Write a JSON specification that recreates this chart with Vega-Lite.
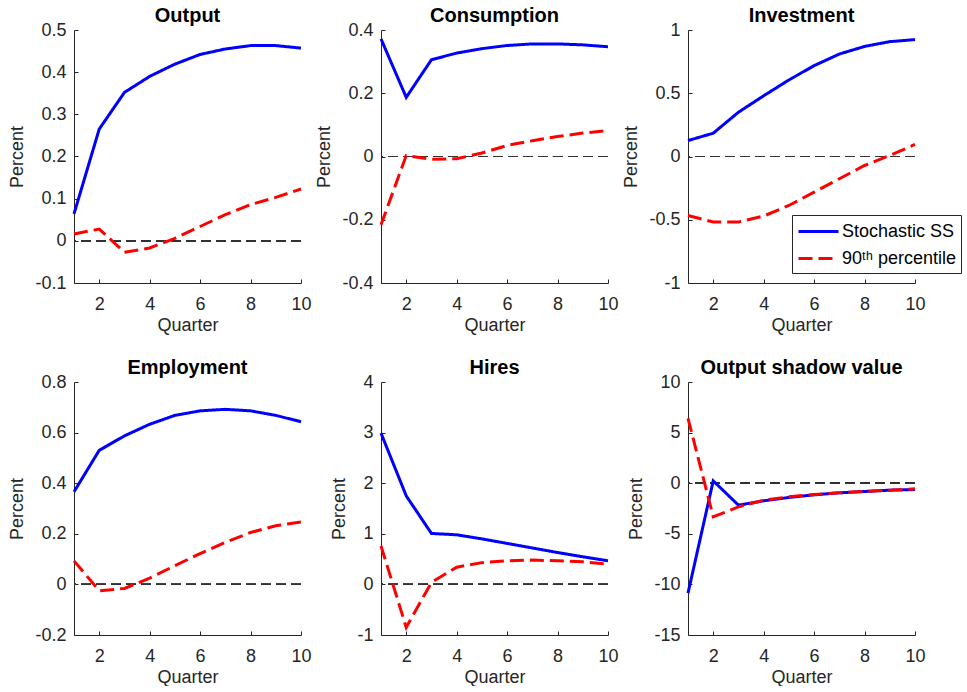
{
  "$schema": "https://vega.github.io/schema/vega-lite/v6.json",
  "padding": {"left": 8, "top": 6, "right": 0, "bottom": 0},
  "background": "white",
  "config": {
    "view": {"stroke": null},
    "font": "Liberation Sans",
    "title": {"fontSize": 20, "fontWeight": "bold", "color": "#000000", "offset": -5, "font": "Liberation Sans"},
    "axis": {
      "grid": false,
      "domainColor": "#262626",
      "tickColor": "#262626",
      "labelColor": "#262626",
      "titleColor": "#262626",
      "labelFont": "Liberation Sans",
      "titleFont": "Liberation Sans",
      "labelFontSize": 18,
      "titleFontSize": 18,
      "titleFontWeight": "normal",
      "tickSize": -4,
      "domainWidth": 1,
      "tickWidth": 1,
      "labelFlush": false,
      "labelOverlap": false
    },
    "axisX": {"labelPadding": 16, "titlePadding": 3},
    "axisY": {"labelPadding": 12, "titlePadding": 8}
  },
  "datasets": {
    "irf": [
      {"p": "Output", "s": "Stochastic SS", "q": 1, "v": 0.064},
      {"p": "Output", "s": "Stochastic SS", "q": 2, "v": 0.265},
      {"p": "Output", "s": "Stochastic SS", "q": 3, "v": 0.352},
      {"p": "Output", "s": "Stochastic SS", "q": 4, "v": 0.39},
      {"p": "Output", "s": "Stochastic SS", "q": 5, "v": 0.419},
      {"p": "Output", "s": "Stochastic SS", "q": 6, "v": 0.442},
      {"p": "Output", "s": "Stochastic SS", "q": 7, "v": 0.455},
      {"p": "Output", "s": "Stochastic SS", "q": 8, "v": 0.463},
      {"p": "Output", "s": "Stochastic SS", "q": 9, "v": 0.463},
      {"p": "Output", "s": "Stochastic SS", "q": 10, "v": 0.457},
      {"p": "Output", "s": "90ᵗʰ percentile", "q": 1, "v": 0.016},
      {"p": "Output", "s": "90ᵗʰ percentile", "q": 2, "v": 0.028},
      {"p": "Output", "s": "90ᵗʰ percentile", "q": 3, "v": -0.027},
      {"p": "Output", "s": "90ᵗʰ percentile", "q": 4, "v": -0.017},
      {"p": "Output", "s": "90ᵗʰ percentile", "q": 5, "v": 0.006},
      {"p": "Output", "s": "90ᵗʰ percentile", "q": 6, "v": 0.034},
      {"p": "Output", "s": "90ᵗʰ percentile", "q": 7, "v": 0.062},
      {"p": "Output", "s": "90ᵗʰ percentile", "q": 8, "v": 0.086},
      {"p": "Output", "s": "90ᵗʰ percentile", "q": 9, "v": 0.103},
      {"p": "Output", "s": "90ᵗʰ percentile", "q": 10, "v": 0.123},
      {"p": "Consumption", "s": "Stochastic SS", "q": 1, "v": 0.372},
      {"p": "Consumption", "s": "Stochastic SS", "q": 2, "v": 0.187},
      {"p": "Consumption", "s": "Stochastic SS", "q": 3, "v": 0.306},
      {"p": "Consumption", "s": "Stochastic SS", "q": 4, "v": 0.327},
      {"p": "Consumption", "s": "Stochastic SS", "q": 5, "v": 0.341},
      {"p": "Consumption", "s": "Stochastic SS", "q": 6, "v": 0.351},
      {"p": "Consumption", "s": "Stochastic SS", "q": 7, "v": 0.356},
      {"p": "Consumption", "s": "Stochastic SS", "q": 8, "v": 0.356},
      {"p": "Consumption", "s": "Stochastic SS", "q": 9, "v": 0.353},
      {"p": "Consumption", "s": "Stochastic SS", "q": 10, "v": 0.347},
      {"p": "Consumption", "s": "90ᵗʰ percentile", "q": 1, "v": -0.216},
      {"p": "Consumption", "s": "90ᵗʰ percentile", "q": 2, "v": 0.003},
      {"p": "Consumption", "s": "90ᵗʰ percentile", "q": 3, "v": -0.009},
      {"p": "Consumption", "s": "90ᵗʰ percentile", "q": 4, "v": -0.007},
      {"p": "Consumption", "s": "90ᵗʰ percentile", "q": 5, "v": 0.011},
      {"p": "Consumption", "s": "90ᵗʰ percentile", "q": 6, "v": 0.035},
      {"p": "Consumption", "s": "90ᵗʰ percentile", "q": 7, "v": 0.05},
      {"p": "Consumption", "s": "90ᵗʰ percentile", "q": 8, "v": 0.063},
      {"p": "Consumption", "s": "90ᵗʰ percentile", "q": 9, "v": 0.074},
      {"p": "Consumption", "s": "90ᵗʰ percentile", "q": 10, "v": 0.082},
      {"p": "Investment", "s": "Stochastic SS", "q": 1, "v": 0.126},
      {"p": "Investment", "s": "Stochastic SS", "q": 2, "v": 0.184},
      {"p": "Investment", "s": "Stochastic SS", "q": 3, "v": 0.35},
      {"p": "Investment", "s": "Stochastic SS", "q": 4, "v": 0.48},
      {"p": "Investment", "s": "Stochastic SS", "q": 5, "v": 0.605},
      {"p": "Investment", "s": "Stochastic SS", "q": 6, "v": 0.718},
      {"p": "Investment", "s": "Stochastic SS", "q": 7, "v": 0.81},
      {"p": "Investment", "s": "Stochastic SS", "q": 8, "v": 0.87},
      {"p": "Investment", "s": "Stochastic SS", "q": 9, "v": 0.908},
      {"p": "Investment", "s": "Stochastic SS", "q": 10, "v": 0.924},
      {"p": "Investment", "s": "90ᵗʰ percentile", "q": 1, "v": -0.466},
      {"p": "Investment", "s": "90ᵗʰ percentile", "q": 2, "v": -0.518},
      {"p": "Investment", "s": "90ᵗʰ percentile", "q": 3, "v": -0.518},
      {"p": "Investment", "s": "90ᵗʰ percentile", "q": 4, "v": -0.471},
      {"p": "Investment", "s": "90ᵗʰ percentile", "q": 5, "v": -0.387},
      {"p": "Investment", "s": "90ᵗʰ percentile", "q": 6, "v": -0.282},
      {"p": "Investment", "s": "90ᵗʰ percentile", "q": 7, "v": -0.176},
      {"p": "Investment", "s": "90ᵗʰ percentile", "q": 8, "v": -0.071},
      {"p": "Investment", "s": "90ᵗʰ percentile", "q": 9, "v": 0.008},
      {"p": "Investment", "s": "90ᵗʰ percentile", "q": 10, "v": 0.095},
      {"p": "Employment", "s": "Stochastic SS", "q": 1, "v": 0.366},
      {"p": "Employment", "s": "Stochastic SS", "q": 2, "v": 0.53},
      {"p": "Employment", "s": "Stochastic SS", "q": 3, "v": 0.587},
      {"p": "Employment", "s": "Stochastic SS", "q": 4, "v": 0.633},
      {"p": "Employment", "s": "Stochastic SS", "q": 5, "v": 0.668},
      {"p": "Employment", "s": "Stochastic SS", "q": 6, "v": 0.686},
      {"p": "Employment", "s": "Stochastic SS", "q": 7, "v": 0.692},
      {"p": "Employment", "s": "Stochastic SS", "q": 8, "v": 0.686},
      {"p": "Employment", "s": "Stochastic SS", "q": 9, "v": 0.668},
      {"p": "Employment", "s": "Stochastic SS", "q": 10, "v": 0.643},
      {"p": "Employment", "s": "90ᵗʰ percentile", "q": 1, "v": 0.093},
      {"p": "Employment", "s": "90ᵗʰ percentile", "q": 2, "v": -0.025},
      {"p": "Employment", "s": "90ᵗʰ percentile", "q": 3, "v": -0.016},
      {"p": "Employment", "s": "90ᵗʰ percentile", "q": 4, "v": 0.025},
      {"p": "Employment", "s": "90ᵗʰ percentile", "q": 5, "v": 0.074},
      {"p": "Employment", "s": "90ᵗʰ percentile", "q": 6, "v": 0.122},
      {"p": "Employment", "s": "90ᵗʰ percentile", "q": 7, "v": 0.166},
      {"p": "Employment", "s": "90ᵗʰ percentile", "q": 8, "v": 0.205},
      {"p": "Employment", "s": "90ᵗʰ percentile", "q": 9, "v": 0.232},
      {"p": "Employment", "s": "90ᵗʰ percentile", "q": 10, "v": 0.247},
      {"p": "Hires", "s": "Stochastic SS", "q": 1, "v": 2.99},
      {"p": "Hires", "s": "Stochastic SS", "q": 2, "v": 1.75},
      {"p": "Hires", "s": "Stochastic SS", "q": 3, "v": 1.007},
      {"p": "Hires", "s": "Stochastic SS", "q": 4, "v": 0.98},
      {"p": "Hires", "s": "Stochastic SS", "q": 5, "v": 0.9},
      {"p": "Hires", "s": "Stochastic SS", "q": 6, "v": 0.81},
      {"p": "Hires", "s": "Stochastic SS", "q": 7, "v": 0.72},
      {"p": "Hires", "s": "Stochastic SS", "q": 8, "v": 0.63},
      {"p": "Hires", "s": "Stochastic SS", "q": 9, "v": 0.546},
      {"p": "Hires", "s": "Stochastic SS", "q": 10, "v": 0.467},
      {"p": "Hires", "s": "90ᵗʰ percentile", "q": 1, "v": 0.76},
      {"p": "Hires", "s": "90ᵗʰ percentile", "q": 2, "v": -0.85},
      {"p": "Hires", "s": "90ᵗʰ percentile", "q": 3, "v": 0.04},
      {"p": "Hires", "s": "90ᵗʰ percentile", "q": 4, "v": 0.34},
      {"p": "Hires", "s": "90ᵗʰ percentile", "q": 5, "v": 0.43},
      {"p": "Hires", "s": "90ᵗʰ percentile", "q": 6, "v": 0.467},
      {"p": "Hires", "s": "90ᵗʰ percentile", "q": 7, "v": 0.48},
      {"p": "Hires", "s": "90ᵗʰ percentile", "q": 8, "v": 0.467},
      {"p": "Hires", "s": "90ᵗʰ percentile", "q": 9, "v": 0.447},
      {"p": "Hires", "s": "90ᵗʰ percentile", "q": 10, "v": 0.4},
      {"p": "Output shadow value", "s": "Stochastic SS", "q": 1, "v": -10.86},
      {"p": "Output shadow value", "s": "Stochastic SS", "q": 2, "v": 0.23},
      {"p": "Output shadow value", "s": "Stochastic SS", "q": 3, "v": -2.17},
      {"p": "Output shadow value", "s": "Stochastic SS", "q": 4, "v": -1.74},
      {"p": "Output shadow value", "s": "Stochastic SS", "q": 5, "v": -1.41},
      {"p": "Output shadow value", "s": "Stochastic SS", "q": 6, "v": -1.15},
      {"p": "Output shadow value", "s": "Stochastic SS", "q": 7, "v": -0.95},
      {"p": "Output shadow value", "s": "Stochastic SS", "q": 8, "v": -0.82},
      {"p": "Output shadow value", "s": "Stochastic SS", "q": 9, "v": -0.69},
      {"p": "Output shadow value", "s": "Stochastic SS", "q": 10, "v": -0.63},
      {"p": "Output shadow value", "s": "90ᵗʰ percentile", "q": 1, "v": 6.41},
      {"p": "Output shadow value", "s": "90ᵗʰ percentile", "q": 2, "v": -3.32},
      {"p": "Output shadow value", "s": "90ᵗʰ percentile", "q": 3, "v": -2.34},
      {"p": "Output shadow value", "s": "90ᵗʰ percentile", "q": 4, "v": -1.68},
      {"p": "Output shadow value", "s": "90ᵗʰ percentile", "q": 5, "v": -1.35},
      {"p": "Output shadow value", "s": "90ᵗʰ percentile", "q": 6, "v": -1.12},
      {"p": "Output shadow value", "s": "90ᵗʰ percentile", "q": 7, "v": -0.95},
      {"p": "Output shadow value", "s": "90ᵗʰ percentile", "q": 8, "v": -0.82},
      {"p": "Output shadow value", "s": "90ᵗʰ percentile", "q": 9, "v": -0.69},
      {"p": "Output shadow value", "s": "90ᵗʰ percentile", "q": 10, "v": -0.56}
    ]
  },
  "columns": 3,
  "spacing": {"row": 99, "column": 80},
  "bounds": "flush",
  "resolve": {
    "scale": {"color": "independent", "strokeDash": "independent"},
    "legend": {"color": "independent", "strokeDash": "independent"}
  },
  "concat": [
    {
      "title": "Output",
      "width": 227, "height": 253,
      "data": {"name": "irf"},
      "transform": [{"filter": "datum.p === 'Output'"}],
      "layer": [
        {"mark": {"type": "rule", "strokeDash": [10, 5], "color": "#333333", "strokeWidth": 1}, "encoding": {"y": {"datum": 0, "type": "quantitative"}}},
        {"mark": {"type": "line", "strokeWidth": 3}, "encoding": {
          "x": {"field": "q", "type": "quantitative", "scale": {"domain": [1, 10], "nice": false}, "axis": {"values": [2, 4, 6, 8, 10], "title": "Quarter", "labelExpr": "'' + datum.value"}},
          "y": {"field": "v", "type": "quantitative", "scale": {"domain": [-0.1, 0.5], "nice": false, "zero": false}, "axis": {"values": [-0.1, 0, 0.1, 0.2, 0.3, 0.4, 0.5], "title": "Percent", "labelExpr": "'' + datum.value"}},
          "color": {"field": "s", "type": "nominal", "scale": {"domain": ["Stochastic SS", "90ᵗʰ percentile"], "range": ["#0000ff", "#ff0000"]}, "legend": null},
          "strokeDash": {"field": "s", "type": "nominal", "scale": {"domain": ["Stochastic SS", "90ᵗʰ percentile"], "range": [[1, 0], [14, 6]]}, "legend": null}
        }}
      ]
    },
    {
      "title": "Consumption",
      "width": 227, "height": 253,
      "data": {"name": "irf"},
      "transform": [{"filter": "datum.p === 'Consumption'"}],
      "layer": [
        {"mark": {"type": "rule", "strokeDash": [10, 5], "color": "#333333", "strokeWidth": 1}, "encoding": {"y": {"datum": 0, "type": "quantitative"}}},
        {"mark": {"type": "line", "strokeWidth": 3}, "encoding": {
          "x": {"field": "q", "type": "quantitative", "scale": {"domain": [1, 10], "nice": false}, "axis": {"values": [2, 4, 6, 8, 10], "title": "Quarter", "labelExpr": "'' + datum.value"}},
          "y": {"field": "v", "type": "quantitative", "scale": {"domain": [-0.4, 0.4], "nice": false, "zero": false}, "axis": {"values": [-0.4, -0.2, 0, 0.2, 0.4], "title": "Percent", "labelExpr": "'' + datum.value"}},
          "color": {"field": "s", "type": "nominal", "scale": {"domain": ["Stochastic SS", "90ᵗʰ percentile"], "range": ["#0000ff", "#ff0000"]}, "legend": null},
          "strokeDash": {"field": "s", "type": "nominal", "scale": {"domain": ["Stochastic SS", "90ᵗʰ percentile"], "range": [[1, 0], [14, 6]]}, "legend": null}
        }}
      ]
    },
    {
      "title": "Investment",
      "width": 227, "height": 253,
      "data": {"name": "irf"},
      "transform": [{"filter": "datum.p === 'Investment'"}],
      "layer": [
        {"mark": {"type": "rule", "strokeDash": [10, 5], "color": "#333333", "strokeWidth": 1}, "encoding": {"y": {"datum": 0, "type": "quantitative"}}},
        {"mark": {"type": "line", "strokeWidth": 3}, "encoding": {
          "x": {"field": "q", "type": "quantitative", "scale": {"domain": [1, 10], "nice": false}, "axis": {"values": [2, 4, 6, 8, 10], "title": "Quarter", "labelExpr": "'' + datum.value"}},
          "y": {"field": "v", "type": "quantitative", "scale": {"domain": [-1, 1], "nice": false, "zero": false}, "axis": {"values": [-1, -0.5, 0, 0.5, 1], "title": "Percent", "labelExpr": "'' + datum.value"}},
          "color": {"field": "s", "type": "nominal", "scale": {"domain": ["Stochastic SS", "90ᵗʰ percentile"], "range": ["#0000ff", "#ff0000"]},
            "legend": {"orient": "none", "legendX": 104, "legendY": 185, "title": null, "fillColor": "white", "strokeColor": "#262626", "padding": 5, "symbolType": "M-2,0H2", "symbolSize": 400, "symbolStrokeWidth": 3, "symbolOffset": 10, "labelOffset": 12, "labelFontSize": 18, "labelFont": "Liberation Sans", "labelColor": "#000000", "rowPadding": 6, "labelLimit": 300}},
          "strokeDash": {"field": "s", "type": "nominal", "scale": {"domain": ["Stochastic SS", "90ᵗʰ percentile"], "range": [[1, 0], [14, 6]]},
            "legend": {"orient": "none", "legendX": 104, "legendY": 185, "title": null, "fillColor": "white", "strokeColor": "#262626", "padding": 5, "symbolType": "M-2,0H2", "symbolSize": 400, "symbolStrokeWidth": 3, "symbolOffset": 10, "labelOffset": 12, "labelFontSize": 18, "labelFont": "Liberation Sans", "labelColor": "#000000", "rowPadding": 6, "labelLimit": 300}}
        }}
      ]
    },
    {
      "title": "Employment",
      "width": 227, "height": 253,
      "data": {"name": "irf"},
      "transform": [{"filter": "datum.p === 'Employment'"}],
      "layer": [
        {"mark": {"type": "rule", "strokeDash": [10, 5], "color": "#333333", "strokeWidth": 1}, "encoding": {"y": {"datum": 0, "type": "quantitative"}}},
        {"mark": {"type": "line", "strokeWidth": 3}, "encoding": {
          "x": {"field": "q", "type": "quantitative", "scale": {"domain": [1, 10], "nice": false}, "axis": {"values": [2, 4, 6, 8, 10], "title": "Quarter", "labelExpr": "'' + datum.value"}},
          "y": {"field": "v", "type": "quantitative", "scale": {"domain": [-0.2, 0.8], "nice": false, "zero": false}, "axis": {"values": [-0.2, 0, 0.2, 0.4, 0.6, 0.8], "title": "Percent", "labelExpr": "'' + datum.value"}},
          "color": {"field": "s", "type": "nominal", "scale": {"domain": ["Stochastic SS", "90ᵗʰ percentile"], "range": ["#0000ff", "#ff0000"]}, "legend": null},
          "strokeDash": {"field": "s", "type": "nominal", "scale": {"domain": ["Stochastic SS", "90ᵗʰ percentile"], "range": [[1, 0], [14, 6]]}, "legend": null}
        }}
      ]
    },
    {
      "title": "Hires",
      "width": 227, "height": 253,
      "data": {"name": "irf"},
      "transform": [{"filter": "datum.p === 'Hires'"}],
      "layer": [
        {"mark": {"type": "rule", "strokeDash": [10, 5], "color": "#333333", "strokeWidth": 1}, "encoding": {"y": {"datum": 0, "type": "quantitative"}}},
        {"mark": {"type": "line", "strokeWidth": 3}, "encoding": {
          "x": {"field": "q", "type": "quantitative", "scale": {"domain": [1, 10], "nice": false}, "axis": {"values": [2, 4, 6, 8, 10], "title": "Quarter", "labelExpr": "'' + datum.value"}},
          "y": {"field": "v", "type": "quantitative", "scale": {"domain": [-1, 4], "nice": false, "zero": false}, "axis": {"values": [-1, 0, 1, 2, 3, 4], "title": "Percent", "labelExpr": "'' + datum.value"}},
          "color": {"field": "s", "type": "nominal", "scale": {"domain": ["Stochastic SS", "90ᵗʰ percentile"], "range": ["#0000ff", "#ff0000"]}, "legend": null},
          "strokeDash": {"field": "s", "type": "nominal", "scale": {"domain": ["Stochastic SS", "90ᵗʰ percentile"], "range": [[1, 0], [14, 6]]}, "legend": null}
        }}
      ]
    },
    {
      "title": "Output shadow value",
      "width": 227, "height": 253,
      "data": {"name": "irf"},
      "transform": [{"filter": "datum.p === 'Output shadow value'"}],
      "layer": [
        {"mark": {"type": "rule", "strokeDash": [10, 5], "color": "#333333", "strokeWidth": 1}, "encoding": {"y": {"datum": 0, "type": "quantitative"}}},
        {"mark": {"type": "line", "strokeWidth": 3}, "encoding": {
          "x": {"field": "q", "type": "quantitative", "scale": {"domain": [1, 10], "nice": false}, "axis": {"values": [2, 4, 6, 8, 10], "title": "Quarter", "labelExpr": "'' + datum.value"}},
          "y": {"field": "v", "type": "quantitative", "scale": {"domain": [-15, 10], "nice": false, "zero": false}, "axis": {"values": [-15, -10, -5, 0, 5, 10], "title": "Percent", "labelExpr": "'' + datum.value"}},
          "color": {"field": "s", "type": "nominal", "scale": {"domain": ["Stochastic SS", "90ᵗʰ percentile"], "range": ["#0000ff", "#ff0000"]}, "legend": null},
          "strokeDash": {"field": "s", "type": "nominal", "scale": {"domain": ["Stochastic SS", "90ᵗʰ percentile"], "range": [[1, 0], [14, 6]]}, "legend": null}
        }}
      ]
    }
  ]
}
